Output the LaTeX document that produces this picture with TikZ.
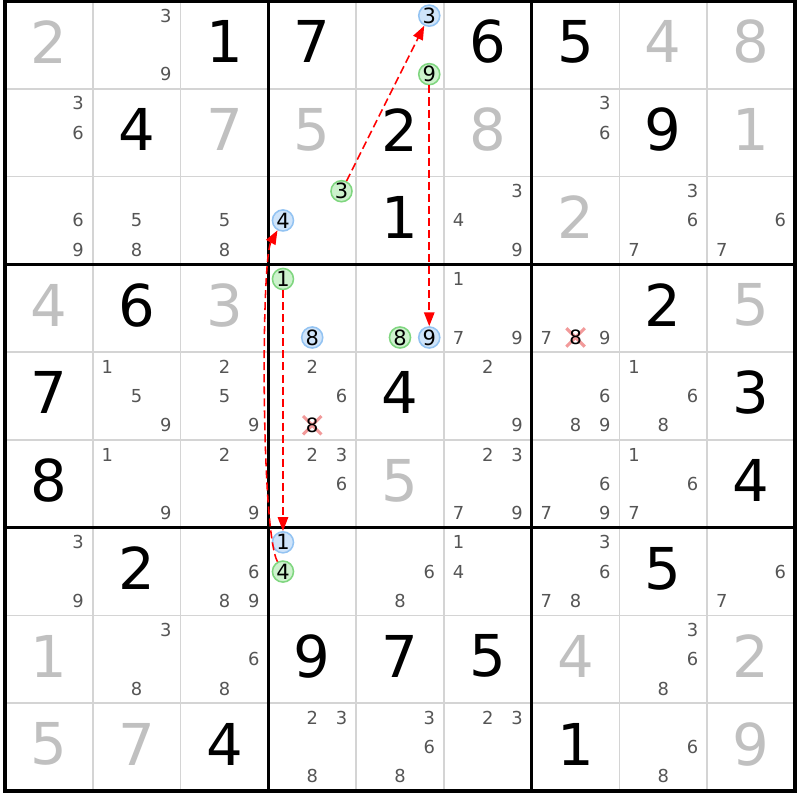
\documentclass[tikz,border=0pt]{standalone}
\usepackage{fontspec}
\setmainfont{DejaVu Sans}
\usetikzlibrary{arrows.meta}

\definecolor{solvedgray}{HTML}{C0C0C0}
\definecolor{candgray}{HTML}{555555}
\definecolor{gridgray}{HTML}{D4D4D4}
\definecolor{bluefill}{HTML}{CFE4FA}
\definecolor{bluering}{HTML}{93C3F2}
\definecolor{greenfill}{HTML}{CDF2CD}
\definecolor{greenring}{HTML}{7FD67F}
\definecolor{strikered}{HTML}{F29A9A}

\tikzset{
  given/.style={inner sep=0pt, yshift=1pt, font=\fontsize{18.7}{20}\selectfont},
  solved/.style={given, text=solvedgray},
  cand/.style={inner sep=0pt, font=\fontsize{5.8}{6}\selectfont, text=candgray},
  bluecand/.style={shape=circle, draw=bluering, fill=bluefill, line width=0.5pt,
    minimum size=0.24cm, inner sep=0pt, font=\fontsize{6.8}{7}\selectfont},
  greencand/.style={bluecand, draw=greenring, fill=greenfill},
  strike/.style={draw=strikered, line width=1pt},
  link/.style={draw=red, line width=0.5pt, dash pattern=on 2.6pt off 1.3pt,
    -{Triangle[length=4.5pt, width=3.4pt]}},
  thinline/.style={draw=gridgray, line width=0.6pt},
  boxline/.style={draw=black, line width=1.1pt},
}

\begin{document}
\begin{tikzpicture}
\path[fill=white] (-0.057,0.0114) rectangle (9.057,-9.1025);
\useasboundingbox (-0.057,0.0114) rectangle (9.057,-9.1025);

              % grid
\foreach \i in {1,2,4,5,7,8}
  \draw[thinline] (\i,0) -- (\i,-9) (0,-\i) -- (9,-\i);

              % givens and solved cells
\foreach \r/\c/\d in {1/3/1, 1/4/7, 1/6/6, 1/7/5, 2/2/4, 2/5/2, 2/8/9, 3/5/1,
    4/2/6, 4/8/2, 5/1/7, 5/5/4, 5/9/3, 6/1/8, 6/9/4, 7/2/2, 7/8/5,
    8/4/9, 8/5/7, 8/6/5, 9/3/4, 9/7/1}
  \node[given] (v\r\c) at (\c-0.5, 0.5-\r) {\d};

\foreach \r/\c/\d in {1/1/2, 1/8/4, 1/9/8, 2/3/7, 2/4/5, 2/6/8, 2/9/1, 3/7/2,
    4/1/4, 4/3/3, 4/9/5, 6/5/5, 8/1/1, 8/7/4, 8/9/2, 9/1/5, 9/2/7, 9/9/9}
  \node[solved] (v\r\c) at (\c-0.5, 0.5-\r) {\d};

              % pencil marks
\foreach \r/\c/\ds in {1/2/{3,9}, 2/1/{3,6}, 2/7/{3,6}, 3/1/{6,9}, 3/2/{5,8},
    3/3/{5,8}, 3/6/{3,4,9}, 3/8/{3,6,7}, 3/9/{6,7}, 4/6/{1,7,9}, 4/7/{7,9},
    5/2/{1,5,9}, 5/3/{2,5,9}, 5/4/{2,6}, 5/6/{2,9}, 5/7/{6,8,9}, 5/8/{1,6,8},
    6/2/{1,9}, 6/3/{2,9}, 6/4/{2,3,6}, 6/6/{2,3,7,9}, 6/7/{6,7,9}, 6/8/{1,6,7},
    7/1/{3,9}, 7/3/{6,8,9}, 7/5/{6,8}, 7/6/{1,4}, 7/7/{3,6,7,8}, 7/9/{6,7},
    8/2/{3,8}, 8/3/{6,8}, 8/8/{3,6,8}, 9/4/{2,3,8}, 9/5/{3,6,8}, 9/6/{2,3},
    9/8/{6,8}}
  \foreach \d in \ds
    \node[cand] (k\r\c\d) at ({\c-1+(mod(\d-1,3)+0.5)/3}, {1-\r-(floor((\d-1)/3)+0.5)/3}) {\d};

              % eliminated 8s
\coordinate (x47) at (6.5,-3.8333);
\coordinate (x54) at (3.5,-4.8333);
\draw[strike] (x47) +(-0.105,-0.105) -- +(0.105,0.105)
              (x47) +(-0.105,0.105) -- +(0.105,-0.105);
\draw[strike] (x54) +(-0.105,-0.105) -- +(0.105,0.105)
              (x54) +(-0.105,0.105) -- +(0.105,-0.105);
\node[cand, text=black, font=\fontsize{6.4}{7}\selectfont] (k478) at (x47) {8};
\node[cand, text=black, font=\fontsize{6.4}{7}\selectfont] (k548) at (x54) {8};

              % chain
\node[bluecand] at (4.8333,-0.1667) (b3) {3};
\node[greencand] at (4.8333,-0.8333) (g9) {9};
\node[greencand] at (3.8333,-2.1667) (g3) {3};
\node[bluecand] at (3.1667,-2.5) (b4) {4};
\node[greencand] at (3.1667,-3.1667) (g1) {1};
\node[bluecand] at (3.5,-3.8333) (b8) {8};
\node[greencand] at (4.5,-3.8333) (g8) {8};
\node[bluecand] at (4.8333,-3.8333) (b9) {9};
\node[bluecand] at (3.1667,-6.1667) (b1) {1};
\node[greencand] at (3.1667,-6.5) (g4) {4};

              % boxes
\draw[boxline] (0,0) rectangle (9,-9);
\foreach \i in {3,6}
  \draw[boxline] (\i,0) -- (\i,-9) (0,-\i) -- (9,-\i);

\draw[link] (g3) -- (b3);
\draw[link] (g9) -- (b9);
\draw[link] (g1) -- (b1);
\draw[link] (g4) .. controls +(-0.25,0.45) and +(-0.25,-0.45) .. (b4);
\end{tikzpicture}
\end{document}
